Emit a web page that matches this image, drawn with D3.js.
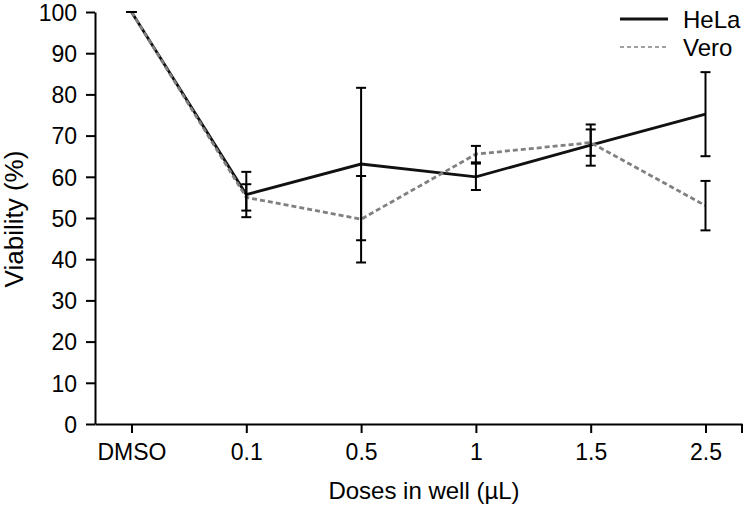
<!DOCTYPE html>
<html>
<head>
<meta charset="utf-8">
<script src="https://cdn.jsdelivr.net/npm/d3@7"></script>
<style>
  html, body { margin: 0; padding: 0; background: #fff; }
  text { font-family: "Liberation Sans", Arial, Helvetica, sans-serif; fill: #000; }
</style>
</head>
<body>
<svg id="chart" width="744" height="507"></svg>
<script>
const categories = ["DMSO", "0.1", "0.5", "1", "1.5", "2.5"];
const helaValues = [100, 55.7, 63.1, 60.0, 67.7, 75.2];
const helaErrors = [0, 5.5, 18.5, 3.2, 5.0, 10.2];
const veroValues = [100, 55.0, 49.7, 65.5, 68.3, 53.0];
const veroErrors = [0, 3.2, 10.5, 2.0, 3.2, 6.0];
const yTicks = [0, 10, 20, 30, 40, 50, 60, 70, 80, 90, 100];
const seriesNames = ["HeLa", "Vero"];

const svg = d3.select("#chart");
const mLeft = 95, mRight = 742, mTop = 12, mBottom = 424;

const x = d3.scalePoint().domain(categories).range([mLeft, mRight]).padding(0.318);
const y = d3.scaleLinear().domain([0, 100]).range([mBottom, mTop]);

// Y axis
const yAxis = svg.append("g").attr("transform", `translate(${mLeft},0)`)
  .call(d3.axisLeft(y).tickValues(yTicks).tickSize(9).tickPadding(9).tickSizeOuter(0));
yAxis.select(".domain").attr("stroke", "#000").attr("stroke-width", 2);
yAxis.selectAll(".tick line").attr("stroke", "#000").attr("stroke-width", 2);
yAxis.selectAll(".tick text").style("font-size", "23px").attr("dy", "0.36em");

// X axis
const xAxis = svg.append("g").attr("transform", `translate(0,${mBottom})`)
  .call(d3.axisBottom(x).tickSize(9).tickPadding(10).tickSizeOuter(0));
xAxis.select(".domain").attr("stroke", "#000").attr("stroke-width", 2);
xAxis.selectAll(".tick line").attr("stroke", "#000").attr("stroke-width", 2);
xAxis.selectAll(".tick text").style("font-size", "23px").attr("dy", "0.72em");
xAxis.append("line").attr("x1", mRight).attr("x2", mRight).attr("y1", 0).attr("y2", 9)
  .attr("stroke", "#000").attr("stroke-width", 2);

// Titles
svg.append("text").attr("x", 424).attr("y", 499).attr("text-anchor", "middle")
  .style("font-size", "24px").text("Doses in well (\u00b5L)");
svg.append("text").attr("transform", "translate(23,219) rotate(-90)").attr("text-anchor", "middle")
  .style("font-size", "26px").text("Viability (%)");

// Lines
const line = d3.line().x((d, i) => x(categories[i])).y(d => y(d));
svg.append("path").datum(helaValues).attr("d", line)
  .attr("fill", "none").attr("stroke", "#111").attr("stroke-width", 2.8);
svg.append("path").datum(veroValues).attr("d", line)
  .attr("fill", "none").attr("stroke", "#808080").attr("stroke-width", 2.8)
  .attr("stroke-dasharray", "5,3");

// Error bars
function errorBars(vals, errs) {
  const g = svg.append("g").attr("stroke", "#000").attr("stroke-width", 2);
  vals.forEach((v, i) => {
    const cx = x(categories[i]);
    const y1 = y(v + errs[i]), y2 = y(v - errs[i]);
    g.append("line").attr("x1", cx).attr("x2", cx).attr("y1", y1).attr("y2", y2);
    g.append("line").attr("x1", cx - 5).attr("x2", cx + 5).attr("y1", y1).attr("y2", y1);
    g.append("line").attr("x1", cx - 5).attr("x2", cx + 5).attr("y1", y2).attr("y2", y2);
  });
}
errorBars(helaValues, helaErrors);
errorBars(veroValues, veroErrors);

// Legend
const legend = svg.append("g");
legend.append("line").attr("x1", 620).attr("x2", 668).attr("y1", 19).attr("y2", 19)
  .attr("stroke", "#111").attr("stroke-width", 2.8);
legend.append("line").attr("x1", 620).attr("x2", 668).attr("y1", 47).attr("y2", 47)
  .attr("stroke", "#a0a0a0").attr("stroke-width", 2).attr("stroke-dasharray", "4,3");
legend.append("text").attr("x", 683).attr("y", 28).style("font-size", "24px").text(seriesNames[0]);
legend.append("text").attr("x", 683).attr("y", 56).style("font-size", "24px").text(seriesNames[1]);
</script>
</body>
</html>
